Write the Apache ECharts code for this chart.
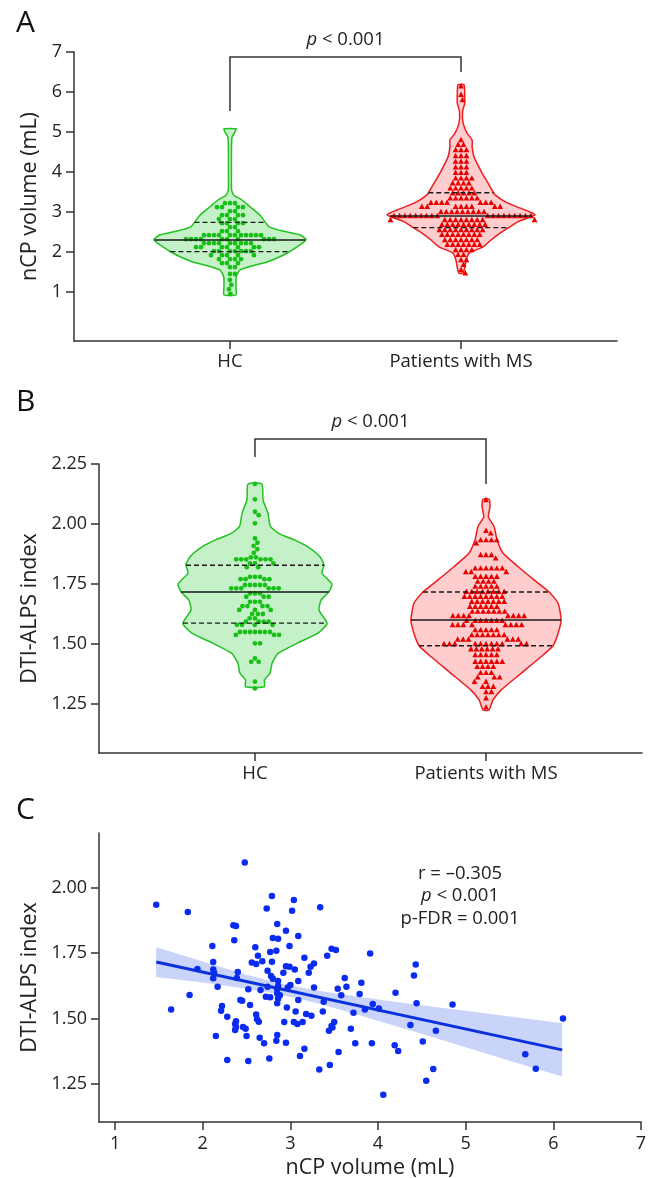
<!DOCTYPE html>
<html>
<head>
<meta charset="utf-8">
<script src="https://cdn.jsdelivr.net/npm/echarts@6/dist/echarts.min.js"></script>
<style>
html, body { margin: 0; padding: 0; background: #fff; }
#main { width: 654px; height: 1178px; }
</style>
</head>
<body>
<div id="main"></div>
<script>
var groups = ['HC', 'Patients with MS'];

// A: nCP volume (mL)
var hcVolume = [3.22, 3.22, 3.22, 3.12, 3.12, 3.12, 3.12, 3.02, 3.02, 2.92, 2.92, 2.92, 2.92,
	2.82, 2.82, 2.82, 2.72, 2.72, 2.72, 2.72, 2.62, 2.62, 2.52, 2.52, 2.52,
	2.42, 2.42, 2.42, 2.42, 2.42, 2.42, 2.42, 2.42, 2.42, 2.42, 2.42,
	2.32, 2.32, 2.32, 2.32, 2.32, 2.32, 2.32, 2.32, 2.32, 2.32,
	2.22, 2.22, 2.22, 2.22, 2.22, 2.22, 2.22, 2.22, 2.22,
	2.12, 2.12, 2.12, 2.12, 2.12, 2.12, 2.12, 2.02, 2.02, 2.02, 2.02, 2.02, 2.02, 2.02,
	1.92, 1.92, 1.92, 1.92, 1.92, 1.82, 1.82, 1.82, 1.82, 1.72, 1.72, 1.72, 1.62, 1.62,
	1.45, 1.45, 1.3, 1.18, 1.07, 0.95];
var msVolume = [6.14, 5.93, 5.8, 4.8, 4.68, 4.68, 4.55, 4.55, 4.55, 4.4, 4.4, 4.4, 4.26, 4.26, 4.26,
	4.12, 4.12, 4.12, 3.98, 3.98, 3.98, 3.84, 3.84, 3.84, 3.84, 3.72, 3.72, 3.72, 3.72,
	3.59, 3.59, 3.59, 3.59, 3.59, 3.47, 3.47, 3.47, 3.47, 3.47, 3.34, 3.34, 3.34, 3.34, 3.34, 3.34,
	3.23, 3.23, 3.23, 3.23, 3.23, 3.23, 3.23, 3.13, 3.13, 3.13, 3.13, 3.13, 3.13, 3.13, 3.13,
	3.0, 3.0, 3.0, 3.0, 3.0, 3.0, 3.0, 3.0, 3.0,
	2.9, 2.9, 2.9, 2.9, 2.9, 2.9, 2.9, 2.9, 2.9, 2.9, 2.9, 2.9, 2.9, 2.9, 2.9, 2.9, 2.9, 2.9,
	2.8, 2.8, 2.8, 2.8, 2.8, 2.8, 2.8, 2.8, 2.8, 2.8, 2.68, 2.68, 2.68, 2.68, 2.68, 2.68, 2.68, 2.68, 2.68,
	2.55, 2.55, 2.55, 2.55, 2.55, 2.55, 2.55, 2.55, 2.55, 2.43, 2.43, 2.43, 2.43, 2.43, 2.43, 2.43, 2.43,
	2.3, 2.3, 2.3, 2.3, 2.3, 2.3, 2.3, 2.18, 2.18, 2.18, 2.18, 2.18, 2.18, 2.18,
	2.05, 2.05, 2.05, 2.05, 1.93, 1.93, 1.8, 1.8, 1.68, 1.55, 1.47];
// violin outlines: [value, half width in x-axis units]
var hcVolumeShape = [[0.93, 0.026], [1.14, 0.026], [1.38, 0.027], [1.55, 0.043], [1.63, 0.082], [1.75, 0.16],
	[1.88, 0.216], [2.0, 0.255], [2.13, 0.29], [2.25, 0.32], [2.32, 0.329], [2.43, 0.303], [2.53, 0.225],
	[2.63, 0.169], [2.75, 0.152], [2.92, 0.13], [3.13, 0.087], [3.3, 0.052], [3.42, 0.017], [3.55, 0.007],
	[4.0, 0.0065], [4.55, 0.0065], [4.88, 0.009], [5.0, 0.022], [5.08, 0.026]];
var msVolumeShape = [[1.47, 0.009], [1.63, 0.017], [1.8, 0.022], [1.97, 0.035], [2.13, 0.095], [2.3, 0.13],
	[2.47, 0.169], [2.63, 0.212], [2.76, 0.247], [2.93, 0.32], [3.05, 0.277], [3.22, 0.203], [3.43, 0.147],
	[3.55, 0.134], [3.72, 0.117], [3.97, 0.091], [4.22, 0.069], [4.38, 0.056], [4.63, 0.048], [4.8, 0.048],
	[4.97, 0.026], [5.22, 0.009], [5.51, 0.0065], [5.72, 0.016], [5.97, 0.016], [6.18, 0.013]];
var hcVolumeQuart = [2.01, 2.3, 2.74];
var msVolumeQuart = [2.61, 2.9, 3.48];
var bracketA = [5.525, 6.875, 6.5];

// B: DTI-ALPS index
var hcIndex = [2.167, 2.103, 2.051, 2.037, 2.003, 1.94, 1.922, 1.909, 1.895, 1.88, 1.861, 1.861,
	1.853, 1.853, 1.853, 1.853, 1.853, 1.853, 1.836, 1.836, 1.836, 1.82, 1.82,
	1.78, 1.78, 1.78, 1.77, 1.77, 1.77, 1.77, 1.746, 1.746, 1.746, 1.746, 1.746,
	1.732, 1.732, 1.732, 1.732, 1.732, 1.732, 1.711, 1.711, 1.711, 1.697, 1.697, 1.697,
	1.676, 1.676, 1.676, 1.658, 1.658, 1.658, 1.658, 1.642, 1.642, 1.642, 1.625, 1.625, 1.625,
	1.607, 1.607, 1.593, 1.593, 1.593, 1.593, 1.58, 1.58, 1.58, 1.58,
	1.55, 1.55, 1.55, 1.55, 1.55, 1.55, 1.55, 1.538, 1.538, 1.538, 1.503, 1.503,
	1.44, 1.426, 1.426, 1.343, 1.315];
var msIndex = [2.1, 1.972, 1.961, 1.933, 1.933, 1.933, 1.933, 1.92, 1.871, 1.871, 1.871, 1.857,
	1.815, 1.815, 1.815, 1.815, 1.815, 1.815, 1.8, 1.8, 1.8, 1.78, 1.78, 1.78, 1.78, 1.78,
	1.76, 1.76, 1.76, 1.76, 1.739, 1.739, 1.739, 1.739, 1.739,
	1.718, 1.718, 1.718, 1.718, 1.718, 1.718, 1.718, 1.718, 1.697, 1.697, 1.697, 1.697, 1.697, 1.697, 1.697, 1.697,
	1.676, 1.676, 1.676, 1.676, 1.676, 1.676, 1.676, 1.655, 1.655, 1.655, 1.655, 1.655, 1.655,
	1.635, 1.635, 1.635, 1.635, 1.635, 1.635, 1.635, 1.617, 1.617, 1.617, 1.617, 1.617, 1.617, 1.617, 1.617,
	1.597, 1.597, 1.597, 1.597, 1.597, 1.597, 1.597, 1.579, 1.579, 1.579, 1.579, 1.579, 1.579, 1.579, 1.579,
	1.558, 1.558, 1.558, 1.558, 1.558, 1.537, 1.537, 1.537, 1.537, 1.537, 1.537, 1.537,
	1.519, 1.519, 1.519, 1.519, 1.519, 1.519, 1.5, 1.5, 1.5, 1.5, 1.5, 1.5, 1.5, 1.5, 1.5, 1.5, 1.5,
	1.478, 1.478, 1.478, 1.478, 1.478, 1.478, 1.454, 1.454, 1.454, 1.454, 1.454,
	1.426, 1.426, 1.426, 1.426, 1.426, 1.426, 1.405, 1.405, 1.405, 1.405, 1.38, 1.38, 1.38,
	1.361, 1.361, 1.361, 1.343, 1.343, 1.322, 1.322, 1.322, 1.3, 1.3, 1.274, 1.236];
var hcIndexShape = [[1.322, 0.041], [1.35, 0.041], [1.378, 0.065], [1.42, 0.074], [1.461, 0.1], [1.503, 0.182],
	[1.545, 0.273], [1.586, 0.312], [1.642, 0.277], [1.683, 0.286], [1.717, 0.32], [1.75, 0.333], [1.795, 0.29],
	[1.83, 0.299], [1.864, 0.281], [1.905, 0.229], [1.933, 0.173], [1.96, 0.104], [1.99, 0.067], [2.045, 0.056],
	[2.1, 0.035], [2.167, 0.03]];
var msIndexShape = [[1.225, 0.013], [1.267, 0.03], [1.308, 0.065], [1.378, 0.152], [1.447, 0.238], [1.493, 0.29],
	[1.545, 0.312], [1.6, 0.325], [1.67, 0.312], [1.717, 0.273], [1.767, 0.208], [1.822, 0.139], [1.878, 0.074],
	[1.933, 0.048], [1.989, 0.035], [2.03, 0.01], [2.072, 0.017], [2.103, 0.013]];
var hcIndexQuart = [1.587, 1.717, 1.828];
var msIndexQuart = [1.493, 1.6, 1.717];
var bracketB = [2.279, 2.354, 2.167];

// C: nCP volume vs DTI-ALPS index (patients)
var scatterPoints = [[2.48, 2.097], [1.47, 1.935], [1.83, 1.908], [2.35, 1.857], [2.38, 1.854], [2.36, 1.8],
	[2.11, 1.778], [2.6, 1.773], [2.63, 1.74], [2.56, 1.714], [2.61, 1.709], [2.68, 1.719], [2.12, 1.716],
	[1.94, 1.69], [2.12, 1.688], [2.13, 1.675], [2.12, 1.654], [2.4, 1.678], [2.39, 1.655], [2.17, 1.622],
	[2.52, 1.612], [2.66, 1.609], [1.85, 1.59], [2.43, 1.571], [2.45, 1.568], [2.54, 1.552], [1.64, 1.535],
	[2.22, 1.548], [2.21, 1.53], [2.61, 1.515], [2.28, 1.507], [2.62, 1.497], [2.64, 1.488], [2.38, 1.49],
	[2.37, 1.479], [2.38, 1.468], [2.37, 1.456], [2.46, 1.468], [2.49, 1.461], [2.15, 1.433], [2.5, 1.433],
	[2.65, 1.426], [2.7, 1.405], [2.28, 1.341], [2.52, 1.337],
	[2.79, 1.969], [2.73, 1.921], [3.04, 1.954], [3.02, 1.912], [3.34, 1.926], [2.85, 1.862], [2.95, 1.836],
	[3.09, 1.816], [2.8, 1.808], [2.86, 1.805], [2.99, 1.778], [2.77, 1.755], [2.84, 1.759], [3.91, 1.749],
	[3.47, 1.767], [3.52, 1.762], [3.42, 1.74], [3.16, 1.733], [2.79, 1.717], [3.27, 1.711], [3.23, 1.698],
	[3.21, 1.675], [2.95, 1.7], [2.99, 1.698], [3.05, 1.688], [2.74, 1.683], [2.78, 1.663], [2.8, 1.652],
	[2.92, 1.675], [3.62, 1.655], [3.81, 1.637], [3.09, 1.644], [2.86, 1.644], [2.86, 1.624], [2.85, 1.612],
	[3.0, 1.628], [2.97, 1.619], [2.74, 1.622], [3.27, 1.619], [3.54, 1.614], [3.64, 1.622], [3.58, 1.589],
	[3.79, 1.594], [2.85, 1.596], [2.88, 1.589], [2.86, 1.577], [2.85, 1.558], [2.77, 1.581], [2.72, 1.583],
	[3.09, 1.571], [3.38, 1.564], [3.94, 1.556], [4.01, 1.538], [3.85, 1.535], [2.96, 1.542], [3.37, 1.527],
	[3.06, 1.527], [3.72, 1.522], [3.18, 1.517], [3.24, 1.511], [2.93, 1.487], [3.04, 1.487], [3.08, 1.479],
	[3.14, 1.487], [3.5, 1.487], [3.47, 1.471], [3.44, 1.453], [3.48, 1.466], [3.69, 1.461], [2.85, 1.437],
	[2.84, 1.415], [2.95, 1.407], [3.74, 1.405], [3.93, 1.405], [3.16, 1.384], [3.11, 1.357], [3.55, 1.372],
	[2.76, 1.347], [3.33, 1.305], [3.45, 1.322], [4.06, 1.208],
	[4.43, 1.707], [4.41, 1.665], [4.2, 1.599], [4.44, 1.558], [4.85, 1.554], [6.11, 1.5], [4.37, 1.475],
	[4.66, 1.453], [4.51, 1.412], [4.19, 1.398], [4.23, 1.376], [5.68, 1.363], [5.8, 1.308], [4.63, 1.307],
	[4.55, 1.262]];
var fitX = [1.47, 6.1];
var fitY = [1.716, 1.38];
var bandX = [1.47, 2.0, 2.5, 2.9, 3.3, 3.8, 4.4, 5.0, 5.5, 6.1];
var bandLow = [1.659, 1.638, 1.614, 1.591, 1.559, 1.512, 1.451, 1.39, 1.338, 1.278];
var bandHigh = [1.773, 1.718, 1.668, 1.633, 1.607, 1.582, 1.555, 1.53, 1.508, 1.482];

var FONT = '"Open Sans", "Noto Sans", sans-serif';
var GREEN = '#22c122', GREEN_FILL = 'rgba(60,210,70,0.3)';
var RED = '#ee1c1c', RED_FILL = 'rgba(255,70,70,0.27)';

function halfWidthAt(shape, v) {
	for (var i = 1; i < shape.length; i++) {
		if (v <= shape[i][0]) {
			var t = (v - shape[i - 1][0]) / (shape[i][0] - shape[i - 1][0]);
			return shape[i - 1][1] + t * (shape[i][1] - shape[i - 1][1]);
		}
	}
	return shape[shape.length - 1][1];
}

// simple greedy beeswarm in pixel space
function swarm(api, xPos, values, d) {
	var out = [];
	var sorted = values.slice().sort(function(a, b) { return b - a; });
	sorted.forEach(function(v) {
		var p = api.coord([xPos, v]);
		var near = out.filter(function(q) { return Math.abs(q.y - p[1]) < d; });
		var cands = [0];
		near.forEach(function(q) {
			var dy = q.y - p[1];
			var dx = Math.sqrt(d * d - dy * dy);
			cands.push(q.dx + dx, q.dx - dx);
		});
		cands.sort(function(a, b) { return Math.abs(a) - Math.abs(b); });
		for (var i = 0; i < cands.length; i++) {
			var c = cands[i];
			var ok = near.every(function(q) {
				var dy = q.y - p[1];
				return (c - q.dx) * (c - q.dx) + dy * dy >= d * d - 0.01;
			});
			if (ok) {
				out.push({ x: p[0] + c, y: p[1], dx: c });
				break;
			}
		}
	});
	return out;
}

function violin(gridIdx, xPos, shape, values, quart, stroke, fill, dotColor, triangle) {
	return {
		type: 'custom',
		xAxisIndex: gridIdx,
		yAxisIndex: gridIdx,
		clip: false,
		silent: true,
		z: 3,
		data: [[xPos, quart[1]]],
		renderItem: function(params, api) {
			var pts = [];
			shape.forEach(function(s) { pts.push(api.coord([xPos + s[1], s[0]])); });
			for (var i = shape.length - 1; i >= 0; i--) pts.push(api.coord([xPos - shape[i][1], shape[i][0]]));
			var children = [{
				type: 'polygon',
				shape: { points: pts, smooth: 0.18 },
				style: { fill: fill, stroke: stroke, lineWidth: 1.5 }
			}];
			swarm(api, xPos, values, triangle ? 5.4 : 5.0).forEach(function(p) {
				if (triangle) {
					children.push({
						type: 'polygon',
						shape: { points: [[p.x, p.y - 3.2], [p.x + 2.9, p.y + 2.2], [p.x - 2.9, p.y + 2.2]] },
						style: { fill: dotColor }
					});
				} else {
					children.push({
						type: 'circle',
						shape: { cx: p.x, cy: p.y, r: 2.4 },
						style: { fill: dotColor }
					});
				}
			});
			quart.forEach(function(q, k) {
				var w = halfWidthAt(shape, q);
				var a = api.coord([xPos - w, q]), b = api.coord([xPos + w, q]);
				children.push({
					type: 'line',
					shape: { x1: a[0], y1: a[1], x2: b[0], y2: b[1] },
					style: { stroke: '#1a1a1a', lineWidth: 1.4, lineDash: k === 1 ? null : [5, 3] }
				});
			});
			return { type: 'group', children: children };
		}
	};
}

function bracket(gridIdx, b) {
	return {
		type: 'custom',
		xAxisIndex: gridIdx,
		yAxisIndex: gridIdx,
		clip: false,
		silent: true,
		data: [[0, b[1]]],
		renderItem: function(params, api) {
			var p0 = api.coord([0, b[0]]), p1 = api.coord([0, b[1]]);
			var p2 = api.coord([1, b[1]]), p3 = api.coord([1, b[2]]);
			return {
				type: 'group',
				children: [{
					type: 'polyline',
					shape: { points: [p0, p1, p2, p3] },
					style: { stroke: '#333', lineWidth: 1.5, fill: null }
				}, {
					type: 'text',
					x: (p1[0] + p2[0]) / 2,
					y: p1[1] - 17,
					style: {
						text: '{i|p} < 0.001',
						fontSize: 18.5, fontFamily: FONT, fill: '#222',
						align: 'center', verticalAlign: 'middle',
						textAlign: 'center', textVerticalAlign: 'middle',
						rich: { i: { fontStyle: 'italic', fontSize: 18.5, fontFamily: FONT, fill: '#222' } }
					}
				}]
			};
		}
	};
}

function axisStyle(extra) {
	var base = {
		axisLine: { show: true, onZero: false, lineStyle: { color: '#333', width: 1.5 } },
		axisTick: { show: true, length: 8, lineStyle: { color: '#333', width: 1.5 } },
		axisLabel: { color: '#222', fontSize: 18, fontFamily: FONT },
		splitLine: { show: false },
		nameTextStyle: { color: '#222', fontSize: 21.5, fontFamily: FONT }
	};
	for (var k in extra) {
		if (typeof extra[k] === 'object' && base[k] && !Array.isArray(extra[k])) {
			for (var j in extra[k]) base[k][j] = extra[k][j];
		} else {
			base[k] = extra[k];
		}
	}
	return base;
}

var groupTicks = [0, 1];
var volumeTicks = [1, 2, 3, 4, 5, 6, 7];
var indexTicksB = [1.25, 1.5, 1.75, 2.0, 2.25];
var indexTicksC = [1.25, 1.5, 1.75, 2.0];
var volumeTicksC = [1, 2, 3, 4, 5, 6, 7];

var myChart = echarts.init(document.getElementById('main'));
var option = {
	animation: false,
	backgroundColor: '#fff',
	grid: [
		{ left: 74, top: 52, width: 543, height: 289, outerBoundsMode: 'none' },
		{ left: 99, top: 464, width: 543, height: 289, outerBoundsMode: 'none' },
		{ left: 99, top: 833, width: 542, height: 289, outerBoundsMode: 'none' }
	],
	xAxis: [
		axisStyle({
			type: 'value', gridIndex: 0, min: -0.675, max: 1.675,
			axisTick: { customValues: groupTicks },
			axisLabel: { customValues: groupTicks, margin: 11, fontSize: 18.5, formatter: function(v) { return groups[Math.round(v)]; } }
		}),
		axisStyle({
			type: 'value', gridIndex: 1, min: -0.675, max: 1.675,
			axisTick: { customValues: groupTicks },
			axisLabel: { customValues: groupTicks, margin: 11, fontSize: 18.5, formatter: function(v) { return groups[Math.round(v)]; } }
		}),
		axisStyle({
			type: 'value', gridIndex: 2, min: 0.817, max: 7,
			name: 'nCP volume (mL)', nameLocation: 'middle', nameGap: 35,
			axisTick: { customValues: volumeTicksC },
			axisLabel: { customValues: volumeTicksC, margin: 13 }
		})
	],
	yAxis: [
		axisStyle({
			type: 'value', gridIndex: 0, min: -0.225, max: 7,
			name: 'nCP volume (mL)', nameLocation: 'middle', nameGap: 28,
			axisTick: { customValues: volumeTicks },
			axisLabel: { customValues: volumeTicks, margin: 12 }
		}),
		axisStyle({
			type: 'value', gridIndex: 1, min: 1.046, max: 2.25,
			name: 'DTI-ALPS index', nameLocation: 'middle', nameGap: 54,
			axisTick: { customValues: indexTicksB },
			axisLabel: { customValues: indexTicksB, margin: 12, formatter: function(v) { return v.toFixed(2); } }
		}),
		axisStyle({
			type: 'value', gridIndex: 2, min: 1.104, max: 2.21,
			name: 'DTI-ALPS index', nameLocation: 'middle', nameGap: 54,
			axisTick: { customValues: indexTicksC },
			axisLabel: { customValues: indexTicksC, margin: 12, formatter: function(v) { return v.toFixed(2); } }
		})
	],
	graphic: [
		{ type: 'text', x: 16, y: 23, style: { text: 'A', fontSize: 30, fontFamily: FONT, fill: '#111', textVerticalAlign: 'middle', verticalAlign: 'middle' } },
		{ type: 'text', x: 16, y: 402, style: { text: 'B', fontSize: 30, fontFamily: FONT, fill: '#111', textVerticalAlign: 'middle', verticalAlign: 'middle' } },
		{ type: 'text', x: 16, y: 810, style: { text: 'C', fontSize: 30, fontFamily: FONT, fill: '#111', textVerticalAlign: 'middle', verticalAlign: 'middle' } },
		{
			type: 'text', x: 460, y: 896,
			style: {
				text: 'r = \u20130.305\n{i|p} < 0.001\np-FDR = 0.001',
				fontSize: 18.5, fontFamily: FONT, fill: '#222', lineHeight: 22.5,
				align: 'center', verticalAlign: 'middle', textAlign: 'center', textVerticalAlign: 'middle',
				rich: { i: { fontStyle: 'italic', fontSize: 18.5, fontFamily: FONT, fill: '#222', lineHeight: 22.5 } }
			}
		}
	],
	series: [
		violin(0, 0, hcVolumeShape, hcVolume, hcVolumeQuart, GREEN, GREEN_FILL, '#17bf17', false),
		violin(0, 1, msVolumeShape, msVolume, msVolumeQuart, RED, RED_FILL, '#e60000', true),
		bracket(0, bracketA),
		violin(1, 0, hcIndexShape, hcIndex, hcIndexQuart, GREEN, GREEN_FILL, '#17bf17', false),
		violin(1, 1, msIndexShape, msIndex, msIndexQuart, RED, RED_FILL, '#e60000', true),
		bracket(1, bracketB),
		{
			type: 'custom',
			xAxisIndex: 2,
			yAxisIndex: 2,
			silent: true,
			z: 1,
			data: [[bandX[0], bandLow[0]]],
			renderItem: function(params, api) {
				var pts = [];
				for (var i = 0; i < bandX.length; i++) pts.push(api.coord([bandX[i], bandHigh[i]]));
				for (var j = bandX.length - 1; j >= 0; j--) pts.push(api.coord([bandX[j], bandLow[j]]));
				return { type: 'polygon', shape: { points: pts }, style: { fill: 'rgba(80,110,235,0.3)' } };
			}
		},
		{
			type: 'scatter',
			xAxisIndex: 2,
			yAxisIndex: 2,
			symbolSize: 6.5,
			z: 2,
			itemStyle: { color: '#0a2cf0', opacity: 1 },
			data: scatterPoints
		},
		{
			type: 'line',
			xAxisIndex: 2,
			yAxisIndex: 2,
			symbol: 'none',
			z: 3,
			lineStyle: { color: '#0a30dc', width: 3 },
			data: fitX.map(function(x, i) { return [x, fitY[i]]; })
		}
	]
};
myChart.setOption(option);
</script>
</body>
</html>
